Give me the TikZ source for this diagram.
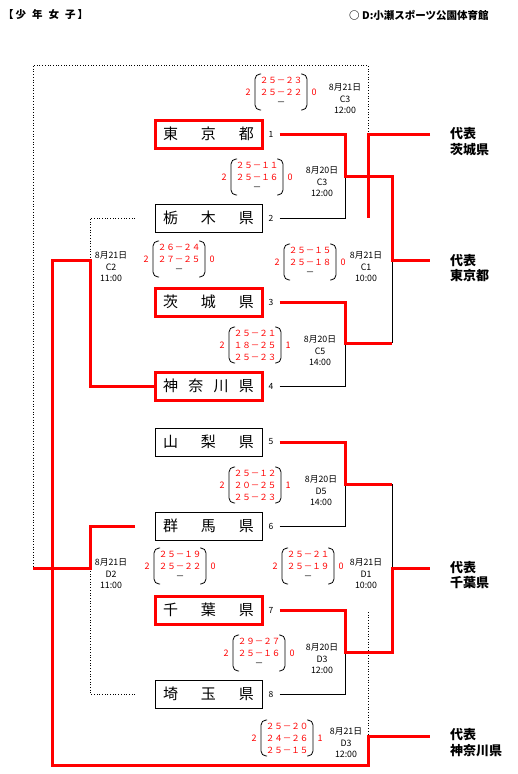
\documentclass[tikz,border=0pt]{standalone}
\usepackage{fontspec}
\setmainfont{Noto Sans CJK JP}
\tikzset{
	team/.style={draw,line width=0.8pt,minimum width=107pt,minimum height=28pt,inner sep=0pt,font=\fontsize{15}{15}\selectfont},
	winteam/.style={team,draw=red,line width=3pt},
	seed/.style={inner sep=0pt,inner xsep=6pt,font=\fontsize{8.5}{8.5}\selectfont},
	winline/.style={red,line width=3pt},
	loseline/.style={black,line width=0.8pt},
	waitline/.style={black,dotted,line width=0.7pt},
	setrow/.style={red,inner sep=0pt,font=\fontsize{8.5}{8.5}\selectfont},
	wins/.style={red,inner sep=0pt,font=\fontsize{9}{9}\selectfont},
	paren/.style={line width=0.8pt,rounded corners=5pt},
	info/.style={align=center,inner sep=0pt,font=\fontsize{8.8}{11.5}\selectfont},
	rep/.style={anchor=west,align=left,inner sep=0pt,font=\bfseries\fontsize{13}{15.5}\selectfont}
}
\newcommand{\matchscore}[7]{%
	\begin{scope}[shift={(#2)}]
		\draw[paren] (-20,-18) -- (-26,-18) -- (-26,18) -- (-20,18);
		\draw[paren] (20,-18) -- (26,-18) -- (26,18) -- (20,18);
		\node[wins] (#1l) at (-33,0) {#3};
		\node[setrow] (#1a) at (0,-12) {#4};
		\node[setrow] (#1b) at (0,0) {#5};
		\node[setrow] (#1c) at (0,12) {#6};
		\node[wins] (#1r) at (33,0) {#7};
	\end{scope}}
\begin{document}
\begin{tikzpicture}[x=1pt,y=-1pt]
	\useasboundingbox (0,0) rectangle (517,774);
				\node[anchor=west,inner sep=0pt,font=\bfseries\fontsize{10.5}{10.5}\selectfont] (hdl) at (3,15) {【\hspace{2pt}少\hspace{6pt}年\hspace{6pt}女\hspace{6pt}子\hspace{2pt}】};
				\node[anchor=west,inner sep=0pt,font=\bfseries\fontsize{10.5}{10.5}\selectfont] (hdr) at (349,15) {○ D:小瀬スポーツ公園体育館};

				\node[winteam] (t1) at (208.5,134){\makebox[91pt]{東\hfill 京\hfill 都}};
				\node[team] (t2) at (208.5,218){\makebox[91pt]{栃\hfill 木\hfill 県}};
				\node[winteam] (t3) at (208.5,302){\makebox[91pt]{茨\hfill 城\hfill 県}};
				\node[winteam] (t4) at (208.5,386){\makebox[91pt]{神\hfill 奈\hfill 川\hfill 県}};
				\node[team] (t5) at (208.5,442){\makebox[91pt]{山\hfill 梨\hfill 県}};
				\node[team] (t6) at (208.5,526){\makebox[91pt]{群\hfill 馬\hfill 県}};
				\node[winteam] (t7) at (208.5,610){\makebox[91pt]{千\hfill 葉\hfill 県}};
				\node[team] (t8) at (208.5,694){\makebox[91pt]{埼\hfill 玉\hfill 県}};

				\node[seed] (n1) at (271,134){1};
				\node[seed] (n2) at (271,218){2};
				\node[seed] (n3) at (271,302){3};
				\node[seed] (n4) at (271,386){4};
				\node[seed] (n5) at (271,442){5};
				\node[seed] (n6) at (271,526){6};
				\node[seed] (n7) at (271,610){7};
				\node[seed] (n8) at (271,694){8};

				\coordinate (m1) at (345,176);
				\coordinate (m2) at (345,343);
				\coordinate (m3) at (345,484);
				\coordinate (m4) at (345,652);
				\coordinate (k1) at (392,343);
				\coordinate (k2) at (392,484);
				\coordinate (f1) at (392,260);
				\coordinate (f2) at (392,568);
				\coordinate (e1) at (430,134);
				\coordinate (e2) at (430,260);
				\coordinate (e3) at (430,568);
				\coordinate (e4) at (430,736);
				\coordinate (p1) at (368,134);
				\coordinate (p2) at (368,218);
				\coordinate (p3) at (368,612);
				\coordinate (p4) at (368,736);
				\coordinate (q0) at (368,65);
				\coordinate (q1) at (33,65);
				\coordinate (q2) at (33,568);
				\coordinate (g1) at (90,260);
				\coordinate (g2) at (90,568);
				\coordinate (s2) at (135,218);
				\coordinate (s6) at (135,526);
				\coordinate (s8) at (135,694);
				\coordinate (h1) at (52,260);
				\coordinate (h2) at (52,765);
				\coordinate (h3) at (368,765);

				\draw[loseline] (n2.east) -| (m1);
				\draw[loseline] (n4.east) -| (m2);
				\draw[loseline] (k1) -- (f1);
				\draw[loseline] (n6.east) -| (m3);
				\draw[loseline] (n8.east) -| (m4);
				\draw[loseline] (k2) -- (f2);
				\draw[waitline] (p1) -- (q0) -- (q1) -- (q2);
				\draw[waitline] (s2) -| (g1);
				\draw[waitline] (s8) -| (g2);
				\draw[waitline] (p3) -- (p4);

				\draw[winline] (n1.east) -| (m1) -| (f1) -- (e2);
				\draw[winline] (n3.east) -| (m2) -- (k1);
				\draw[winline] (e1) -- (p1) -- (p2);
				\draw[winline] (n5.east) -| (m3) -- (k2);
				\draw[winline] (n7.east) -| (m4) -| (f2) -- (e3);
				\draw[winline] (s6) -| (g2) -- (q2);
				\draw[winline] (t4.west) -| (g1) -- (h1) -- (h2) -- (h3) -- (p4) -- (e4);

				\matchscore{c3b}{281,92}{2}{２５－２３}{２５－２２}{\textcolor{black}{－}}{0}
				\matchscore{c3a}{257,177}{2}{２５－１１}{２５－１６}{\textcolor{black}{－}}{0}
				\matchscore{c2}{179,259}{2}{２６－２４}{２７－２５}{\textcolor{black}{－}}{0}
				\matchscore{c1}{310,262}{2}{２５－１５}{２５－１８}{\textcolor{black}{－}}{0}
				\matchscore{c5}{255,345}{2}{２５－２１}{１８－２５}{２５－２３}{1}
				\matchscore{d5}{255,485}{2}{２５－１２}{２０－２５}{２５－２３}{1}
				\matchscore{d2}{180,566}{2}{２５－１９}{２５－２２}{\textcolor{black}{－}}{0}
				\matchscore{d1}{308,566}{2}{２５－２１}{２５－１９}{\textcolor{black}{－}}{0}
				\matchscore{d3a}{259,653}{2}{２９－２７}{２５－１６}{\textcolor{black}{－}}{0}
				\matchscore{d3b}{287,738}{2}{２５－２０}{２４－２６}{２５－１５}{1}

				\node[info] (ic3b) at (345,99){8月21日\\C3\\12:00};
				\node[info] (ic3a) at (322,182){8月20日\\C3\\12:00};
				\node[info] (ic2) at (111,267){8月21日\\C2\\11:00};
				\node[info] (ic1) at (366,267){8月21日\\C1\\10:00};
				\node[info] (ic5) at (320,351){8月20日\\C5\\14:00};
				\node[info] (id5) at (321,491){8月20日\\D5\\14:00};
				\node[info] (id2) at (111,574){8月21日\\D2\\11:00};
				\node[info] (id1) at (366,574){8月21日\\D1\\10:00};
				\node[info] (id3a) at (322,659){8月20日\\D3\\12:00};
				\node[info] (id3b) at (346,743){8月21日\\D3\\12:00};

				\node[rep] (r1) at (450,141.5){代表\\茨城県};
				\node[rep] (r2) at (450,268){代表\\東京都};
				\node[rep] (r3) at (450,575){代表\\千葉県};
				\node[rep] (r4) at (450,742.5){代表\\神奈川県};
\end{tikzpicture}
\end{document}
